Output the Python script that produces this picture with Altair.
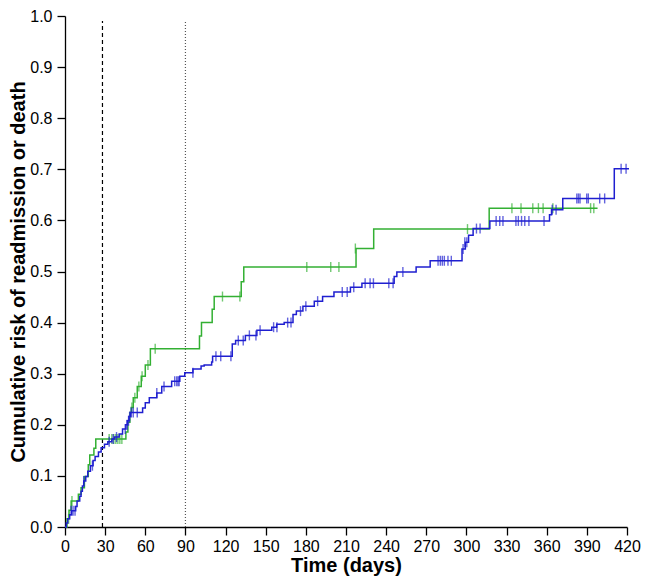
import altair as alt
import pandas as pd

# ---- Green series (step curve) ----
green_t = [0, 1.5, 3, 4.6, 10, 12, 14.5, 17.4, 18.5, 21.6, 23, 45.5, 47, 48.5, 49.5, 51, 54, 57, 60,
           63.8, 100.5, 102, 110, 111.5, 131.7, 133.6, 217.5, 230.7, 317, 398]
green_v = [0, 0.016, 0.033, 0.051, 0.064, 0.077, 0.099, 0.122, 0.141, 0.154, 0.172, 0.186, 0.205, 0.224,
           0.234, 0.253, 0.275, 0.295, 0.317, 0.349, 0.374, 0.40, 0.426, 0.451, 0.48, 0.509, 0.545, 0.583,
           0.624, 0.624]
green_cens_t = [2.7, 5.2, 33, 35, 36.5, 38, 39.5, 41, 42.5, 50, 52.2, 55.2, 57.6, 62, 67.4, 117.7, 130.7,
                180.7, 198.6, 204.7, 217, 300.8, 334, 340.8, 349.6, 353.8, 357.3, 364.6, 392.8, 395.2]
green_cens_v = [0.016, 0.051, 0.172, 0.172, 0.172, 0.172, 0.172, 0.172, 0.172, 0.234, 0.253, 0.275, 0.295,
                0.317, 0.349, 0.451, 0.451, 0.509, 0.509, 0.509, 0.545, 0.583, 0.624, 0.624, 0.624, 0.624,
                0.624, 0.624, 0.624, 0.624]

# ---- Blue series (step curve) ----
blue_t = [0, 1, 2, 3.5, 5, 8, 9, 11, 12, 13, 14, 15.5, 17, 19, 21, 22.5, 25, 27, 29.5, 32, 35, 37, 40.5,
          43, 45.5, 46.5, 47.8, 49, 58, 60, 63, 68.6, 72.3, 79.7, 85.8, 89.5, 95.6, 101.7, 104, 109.6,
          110.3, 125, 127.5, 134.8, 143.4, 154.5, 158.2, 163.8, 170.4, 172.9, 177.8, 186.3, 192.5, 201,
          213.3, 221.9, 246, 248, 262.4, 272.9, 296.7, 299.2, 301.6, 305, 317.5, 362.1, 363.6, 372,
          410.5, 421.5]
blue_v = [0, 0.008, 0.016, 0.024, 0.032, 0.04, 0.051, 0.06, 0.07, 0.08, 0.09, 0.099, 0.109, 0.12, 0.13,
          0.138, 0.147, 0.155, 0.162, 0.167, 0.172, 0.176, 0.182, 0.192, 0.2, 0.208, 0.216, 0.224, 0.233,
          0.243, 0.253, 0.262, 0.275, 0.285, 0.295, 0.302, 0.309, 0.315, 0.317, 0.323, 0.334, 0.358,
          0.365, 0.375, 0.385, 0.391, 0.397, 0.40, 0.416, 0.4225, 0.432, 0.442, 0.451, 0.46, 0.469,
          0.477, 0.49, 0.499, 0.509, 0.521, 0.544, 0.557, 0.571, 0.584, 0.599, 0.611, 0.621, 0.643,
          0.701, 0.701]
blue_cens_t = [4.5, 6, 7.5, 14, 20.5, 33, 36, 38.5, 45, 46.5, 47.5, 48.3, 49.5, 51, 54, 68.6, 74, 82,
               83.5, 84.5, 85.3, 95.6, 112.8, 116.4, 124, 129.5, 133.2, 137.8, 142.7, 145.8, 155.9, 158.4,
               166.4, 168.9, 176, 180, 188.8, 207.2, 210.9, 215.8, 224.3, 228, 230.5, 242, 245.2, 252.5,
               278.8, 280.5, 282, 283.5, 286.2, 288.7, 297.5, 298.8, 300.3, 307.5, 310.2, 322.2, 324.9,
               327.3, 337, 338.8, 341.2, 343.6, 346.7, 358, 364.1, 367, 382.5, 383.7, 384.9, 389.9, 391.1,
               399.6, 403.3, 415.6, 419.3]
blue_cens_v = [0.032, 0.032, 0.032, 0.09, 0.12, 0.167, 0.172, 0.176, 0.192, 0.2, 0.208, 0.216, 0.224,
               0.224, 0.224, 0.262, 0.275, 0.285, 0.285, 0.285, 0.285, 0.302, 0.334, 0.334, 0.334, 0.365,
               0.365, 0.375, 0.375, 0.385, 0.391, 0.391, 0.40, 0.40, 0.4225, 0.432, 0.442, 0.46, 0.46,
               0.469, 0.477, 0.477, 0.477, 0.477, 0.477, 0.499, 0.521, 0.521, 0.521, 0.521, 0.521, 0.521,
               0.544, 0.557, 0.557, 0.584, 0.584, 0.599, 0.599, 0.599, 0.599, 0.599, 0.599, 0.599, 0.599,
               0.599, 0.621, 0.621, 0.643, 0.643, 0.643, 0.643, 0.643, 0.643, 0.643, 0.701, 0.701]

x_ticks = list(range(0, 421, 30))
y_ticks = [i / 10 for i in range(11)]
ref_lines_x = [28, 90]
ref_styles = ["dashed", "dotted"]

GREEN = "#33b033"
BLUE = "#1f1fd0"

green_df = pd.DataFrame({"t": green_t, "v": green_v})
blue_df = pd.DataFrame({"t": blue_t, "v": blue_v})
green_c = pd.DataFrame({"t": green_cens_t, "v": green_cens_v})
blue_c = pd.DataFrame({"t": blue_cens_t, "v": blue_cens_v})
ref_df = pd.DataFrame({"t": ref_lines_x, "style": ref_styles, "y0": [0, 0], "y1": [0.99, 0.99]})

xscale = alt.Scale(domain=[0, 420], nice=False)
yscale = alt.Scale(domain=[0, 1], nice=False)

xaxis = alt.Axis(values=x_ticks, title="Time (days)", labelPadding=3, titlePadding=1,
                 labelFlush=False, labelOverlap=False)
yaxis = alt.Axis(values=y_ticks, format=".1f", title="Cumulative risk of readmission or death",
                 labelPadding=5, titlePadding=1, labelFlush=False, labelOverlap=False)

X = alt.X("t:Q", scale=xscale, axis=xaxis)
Y = alt.Y("v:Q", scale=yscale, axis=yaxis)

dashed = alt.Chart(ref_df[ref_df["style"] == "dashed"]).mark_rule(
    color="black", strokeDash=[4, 3], strokeWidth=1.2
).encode(x=alt.X("t:Q", scale=xscale), y=alt.Y("y0:Q", scale=yscale), y2="y1:Q")

dotted = alt.Chart(ref_df[ref_df["style"] == "dotted"]).mark_rule(
    color="#555555", strokeDash=[1, 2], strokeWidth=1.2
).encode(x=alt.X("t:Q", scale=xscale), y=alt.Y("y0:Q", scale=yscale), y2="y1:Q")

green_line = alt.Chart(green_df).mark_line(interpolate="step-after", color=GREEN, strokeWidth=1.5).encode(x=X, y=Y)
blue_line = alt.Chart(blue_df).mark_line(interpolate="step-after", color=BLUE, strokeWidth=1.5).encode(x=X, y=Y)
green_ticks = alt.Chart(green_c).mark_tick(orient="vertical", color=GREEN, size=10, thickness=1.4).encode(x=X, y=Y)
blue_ticks = alt.Chart(blue_c).mark_tick(orient="vertical", color=BLUE, size=10, thickness=1.4).encode(x=X, y=Y)

chart = alt.layer(dashed, dotted, green_line, green_ticks, blue_line, blue_ticks).properties(
    width=562, height=511,
    autosize=alt.AutoSizeParams(type="none"),
    padding={"left": 57, "top": 8, "right": 14, "bottom": 51},
).configure_view(stroke=None).configure_axis(
    grid=False, domainColor="black", tickColor="black", domainWidth=1.3, tickWidth=1.3, tickSize=8,
    labelFont="Liberation Sans", labelFontSize=16, labelColor="black",
    titleFont="Liberation Sans", titleFontSize=20, titleFontWeight="bold", titleColor="black",
)

chart.save("out.html", embed_options={"renderer": "svg", "actions": False})
